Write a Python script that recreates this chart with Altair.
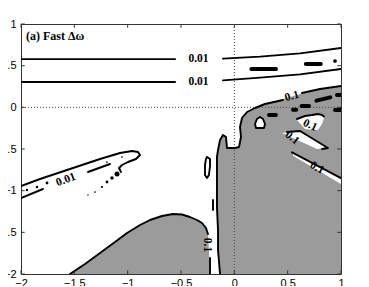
import altair as alt
import pandas as pd

# ---------------- axes ----------------
X_TICKS = [-2, -1.5, -1, -0.5, 0, 0.5, 1]
Y_TICKS = [-2, -1.5, -1, -0.5, 0, 0.5, 1]

# ---------------- grey regions (level 0.1) ----------------
# large region: left boundary x as a function of y (right edge = 1)
BIG_Y = [-2.0, -1.712, -1.472, -1.196, -0.872, -0.596, -0.512, -0.392, -0.332, -0.32,
         -0.236, -0.128, -0.056, -0.008, 0.04, 0.088, 0.16, 0.22, 0.256]
BIG_XL = [-0.134, -0.153, -0.153, -0.163, -0.163, -0.163, -0.153, -0.134, -0.106, 0.053,
          0.053, 0.072, 0.119, 0.194, 0.2875, 0.428, 0.616, 0.803, 1.0]
# bottom-left region: upper boundary y as a function of x (bottom = -2)
BOT_X = [-1.541, -1.4, -1.259, -1.119, -1.006, -0.884, -0.791, -0.678, -0.575, -0.491,
         -0.416, -0.35, -0.303, -0.266, -0.247, -0.238, -0.228]
BOT_Y = [-2.0, -1.88, -1.748, -1.616, -1.508, -1.412, -1.352, -1.304, -1.28, -1.286,
         -1.316, -1.352, -1.388, -1.448, -1.52, -1.712, -2.0]

# ---------------- white holes inside grey ----------------
NOTCH_Y = [-0.488, -0.476, -0.356, -0.332, -0.32]
NOTCH_XL = [-0.069, -0.07, -0.078, -0.106, -0.106]
NOTCH_XR = [0.04, 0.044, 0.0625, 0.06, 0.055]

ELL_X = [0.194, 0.203, 0.213, 0.241, 0.269, 0.278, 0.2875]
ELL_YB = [-0.2, -0.248, -0.248, -0.248, -0.248, -0.248, -0.2]
ELL_YT = [-0.2, -0.17, -0.14, -0.116, -0.14, -0.17, -0.2]

TONGUE_X = [0.5875, 0.6625, 0.728, 0.784, 0.822, 0.84]
TONGUE_YB = [-0.152, -0.26, -0.272, -0.272, -0.2, -0.13]
TONGUE_YT = [-0.14, -0.104, -0.092, -0.08, -0.092, -0.11]

DIAG_X = [0.447, 0.616, 0.775, 0.8875]
DIAG_YB = [-0.308, -0.406, -0.5, -0.488]
DIAG_YT = [-0.308, -0.284, -0.404, -0.488]

STRIP_X = [0.55, 1.0]
STRIP_YB = [-0.58, -0.92]
STRIP_YT = [-0.55, -0.84]

# ---------------- contour lines ----------------
LA1_X, LA1_Y = [-2.0, -0.556], [0.578, 0.578]
LA2_X, LA2_Y = [-0.106, 0.241, 0.616, 1.0], [0.584, 0.608, 0.648, 0.712]
LB1_X, LB1_Y = [-2.0, -0.556], [0.304, 0.304]
LB2_X, LB2_Y = [-0.106, 0.241, 0.616, 1.0], [0.324, 0.356, 0.396, 0.46]

TU_X = [-2.0, -1.822, -1.569, -1.259, -1.072, -0.959, -0.903, -0.884, -0.922, -0.997,
        -1.053, -1.081, -1.063]
TU_Y = [-0.944, -0.86, -0.752, -0.62, -0.548, -0.524, -0.536, -0.572, -0.62, -0.656,
        -0.692, -0.728, -0.776]
TL1_X, TL1_Y = [-2.0, -1.794], [-1.088, -0.98]
TL2_X, TL2_Y = [-1.372, -1.166], [-0.776, -0.68]

BO1_X = [-0.134, -0.153, -0.153, -0.163, -0.163, -0.163, -0.153, -0.134, -0.106, -0.078,
         -0.069, 0.006, 0.044, 0.0625, 0.053, 0.072, 0.119, 0.194, 0.2875, 0.456]
BO1_Y = [-2.0, -1.712, -1.472, -1.196, -0.872, -0.596, -0.512, -0.392, -0.332, -0.356,
         -0.488, -0.488, -0.476, -0.356, -0.236, -0.128, -0.056, -0.008, 0.04, 0.088]
BO2_X, BO2_Y = [0.634, 0.803, 1.0], [0.172, 0.22, 0.256]

BL1_X = BOT_X[:15]
BL1_Y = BOT_Y[:15]
BL2_X, BL2_Y = [-0.228, -0.228], [-1.808, -2.0]

LOOP_X = [-0.256, -0.228, -0.228, -0.238, -0.256, -0.275, -0.275, -0.266, -0.256]
LOOP_Y = [-0.596, -0.62, -0.704, -0.812, -0.848, -0.812, -0.692, -0.62, -0.596]
DASH_X, DASH_Y = [-0.2, -0.2], [-1.112, -1.232]

ELO_X = [0.203, 0.278, 0.2875, 0.269, 0.241, 0.2125, 0.194, 0.203]
ELO_Y = [-0.248, -0.248, -0.2, -0.14, -0.116, -0.14, -0.2, -0.248]
DGO_X, DGO_Y = [0.494, 0.616, 0.878, 0.822], [-0.296, -0.284, -0.488, -0.5]
STO_X, STO_Y = [0.541, 1.0], [-0.54, -0.85]

# ---------------- small blobs ----------------
BLOB_X1 = [0.16, 0.67, 0.325, 0.55, 0.63, 0.77, 0.9625, 0.944]
BLOB_X2 = [0.39, 0.81, 0.39, 0.58, 0.70, 0.90, 1.0, 1.0]
BLOB_Y1 = [0.46, 0.52, -0.092, -0.03, 0.016, 0.08, 0.148, -0.032]
BLOB_Y2 = [0.46, 0.52, -0.092, -0.03, 0.016, 0.12, 0.148, -0.032]

DOT_X = [-1.944, -1.85, -1.756, -1.372, -1.306, -1.241, -1.194, -1.147, -1.1, -1.194, -1.053, 0.944]
DOT_Y = [-0.992, -0.956, -0.908, -1.052, -1.016, -0.956, -0.896, -0.848, -0.8, -0.656, -0.596, 0.556]
DOT_S = [6, 6, 8, 2, 3, 5, 8, 12, 25, 3, 3, 14]

# ---------------- contour labels ----------------
LBL_TEXT = ["0.01", "0.01", "0.01", "0.1", "0.1", "0.1", "0.1", "0.1"]
LBL_X = [-0.336, -0.336, -1.578, 0.541, 0.709, 0.541, 0.775, -0.256]
LBL_Y = [0.578, 0.304, -0.872, 0.13, -0.218, -0.368, -0.728, -1.652]
LBL_ANGLE = [0, 0, 340, 345, 25, 40, 30, 90]

TITLE = "(a) Fast \u0394\u03c9"

# ======================================================================
GREY = "#9b9b9b"
xs = alt.Scale(domain=[-2, 1], nice=False, zero=False)
ys = alt.Scale(domain=[-2, 1], nice=False, zero=False)
ax_common = dict(domain=False, ticks=False, grid=False, labelFontSize=11,
                 labelFont="Liberation Sans", labelColor="black", format=".1~f",
                 title=None)
xaxis = alt.Axis(values=X_TICKS, labelPadding=3, labelFlush=False, **ax_common)
yaxis = alt.Axis(values=Y_TICKS, labelPadding=5, labelFlush=False, **ax_common)


def X(f):
    return alt.X(f, type="quantitative", scale=xs, axis=xaxis)


def Y(f):
    return alt.Y(f, type="quantitative", scale=ys, axis=yaxis)


big = pd.DataFrame({"y": BIG_Y, "xl": BIG_XL, "xr": [1.0] * len(BIG_Y)})
bot = pd.DataFrame({"x": BOT_X, "yt": BOT_Y, "yb": [-2.0] * len(BOT_X)})
notch = pd.DataFrame({"y": NOTCH_Y, "xl": NOTCH_XL, "xr": NOTCH_XR})

layers = []
layers.append(alt.Chart(big).mark_area(orient="horizontal", color=GREY, clip=True)
              .encode(y=Y("y"), x=X("xl"), x2="xr"))
layers.append(alt.Chart(bot).mark_area(color=GREY, clip=True)
              .encode(x=X("x"), y=Y("yt"), y2="yb"))
layers.append(alt.Chart(notch).mark_area(orient="horizontal", color="white")
              .encode(y=Y("y"), x=X("xl"), x2="xr"))
for hx, hb, ht in [(ELL_X, ELL_YB, ELL_YT), (TONGUE_X, TONGUE_YB, TONGUE_YT),
                   (DIAG_X, DIAG_YB, DIAG_YT), (STRIP_X, STRIP_YB, STRIP_YT)]:
    hdf = pd.DataFrame({"x": hx, "yb": hb, "yt": ht})
    layers.append(alt.Chart(hdf).mark_area(color="white", clip=True)
                  .encode(x=X("x"), y=Y("yb"), y2="yt"))

# dotted zero lines
layers.append(alt.Chart(pd.DataFrame({"v": [0.0]})).mark_rule(
    color="#444", strokeDash=[1, 2], strokeWidth=1).encode(x=X("v")))
layers.append(alt.Chart(pd.DataFrame({"v": [0.0]})).mark_rule(
    color="#444", strokeDash=[1, 2], strokeWidth=1).encode(y=Y("v")))

# contour lines
paths = [
    ("la1", LA1_X, LA1_Y), ("la2", LA2_X, LA2_Y), ("lb1", LB1_X, LB1_Y), ("lb2", LB2_X, LB2_Y),
    ("tu", TU_X, TU_Y), ("tl1", TL1_X, TL1_Y), ("tl2", TL2_X, TL2_Y),
    ("bo1", BO1_X, BO1_Y), ("bo2", BO2_X, BO2_Y), ("bl1", BL1_X, BL1_Y), ("bl2", BL2_X, BL2_Y),
    ("loop", LOOP_X, LOOP_Y), ("dash", DASH_X, DASH_Y), ("elo", ELO_X, ELO_Y),
    ("tgo", TONGUE_X, TONGUE_YT), ("dgo", DGO_X, DGO_Y), ("sto", STO_X, STO_Y),
]
rows = []
for nm, px, py in paths:
    for i, (a, b) in enumerate(zip(px, py)):
        rows.append({"seg": nm, "i": i, "x": a, "y": b})
lines = pd.DataFrame(rows)
layers.append(alt.Chart(lines).mark_line(color="black", strokeWidth=1.9, clip=True,
                                         strokeJoin="round", strokeCap="round")
              .encode(x=X("x"), y=Y("y"), detail="seg:N", order="i:Q"))

blobs = pd.DataFrame({"x": BLOB_X1, "x2": BLOB_X2, "y": BLOB_Y1, "y2": BLOB_Y2})
layers.append(alt.Chart(blobs).mark_rule(color="black", strokeWidth=4, strokeCap="round", clip=True)
              .encode(x=X("x"), x2="x2", y=Y("y"), y2="y2"))

dots = pd.DataFrame({"x": DOT_X, "y": DOT_Y, "s": DOT_S})
layers.append(alt.Chart(dots).mark_circle(color="black", opacity=1, clip=True)
              .encode(x=X("x"), y=Y("y"),
                      size=alt.Size("s:Q", scale=None, legend=None)))

labels = pd.DataFrame({"t": LBL_TEXT, "x": LBL_X, "y": LBL_Y, "a": LBL_ANGLE})
layers.append(alt.Chart(labels).mark_text(font="Liberation Serif", fontWeight="bold",
                                          fontSize=11.5, color="black", baseline="middle",
                                          align="center")
              .encode(x=X("x"), y=Y("y"), text="t:N",
                      angle=alt.Angle("a:Q", scale=None)))

# inward ticks
tick_rows_v = [{"x": t, "y0": -2.0, "y1": -1.955} for t in X_TICKS] + \
              [{"x": t, "y0": 1.0, "y1": 0.955} for t in X_TICKS]
tick_rows_h = [{"y": t, "x0": -2.0, "x1": -1.965} for t in Y_TICKS] + \
              [{"y": t, "x0": 1.0, "x1": 0.965} for t in Y_TICKS]
layers.append(alt.Chart(pd.DataFrame(tick_rows_v)).mark_rule(color="#333", strokeWidth=1)
              .encode(x=X("x"), y=Y("y0"), y2="y1"))
layers.append(alt.Chart(pd.DataFrame(tick_rows_h)).mark_rule(color="#333", strokeWidth=1)
              .encode(y=Y("y"), x=X("x0"), x2="x1"))

layers.append(alt.Chart(pd.DataFrame({"t": [TITLE]})).mark_text(
    font="Liberation Serif", fontWeight="bold", fontSize=12, align="left",
    baseline="middle", color="black").encode(
    x=alt.value(5), y=alt.value(12), text="t:N"))

chart = alt.layer(*layers).properties(
    width=320, height=250,
    autosize=alt.AutoSizeParams(type="none"),
    padding={"left": 13, "top": 16, "right": 20, "bottom": 12},
).configure_view(stroke="#333", strokeWidth=1)

chart.save("out.html", embed_options={"renderer": "svg", "actions": False})
